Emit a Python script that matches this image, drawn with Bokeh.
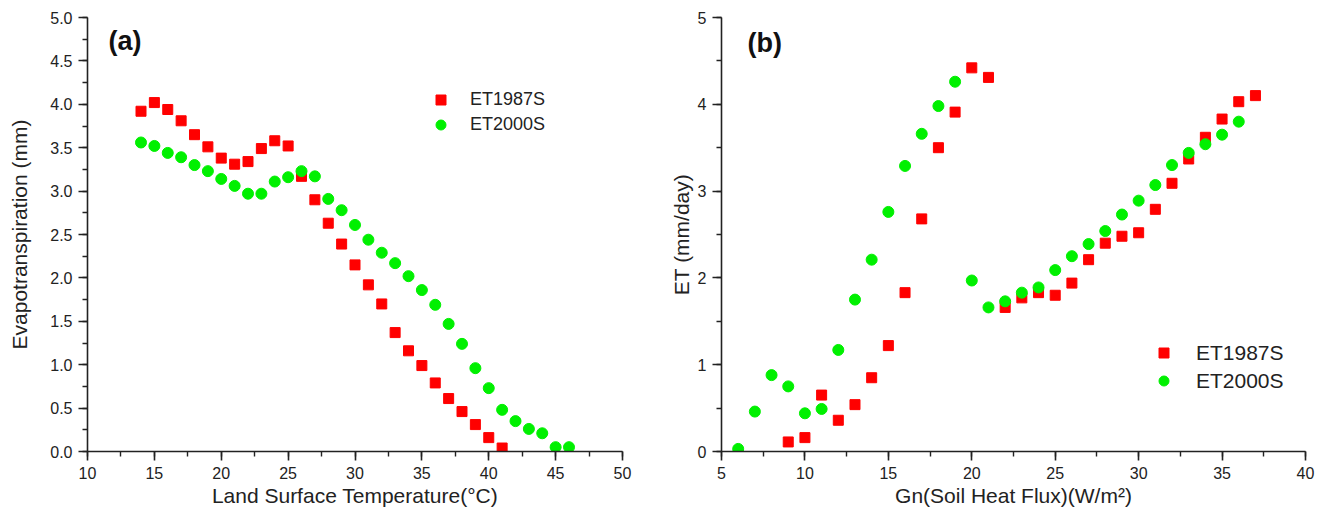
from bokeh.plotting import figure
from bokeh.layouts import row
from bokeh.models import Range1d, SingleIntervalTicker, PrintfTickFormatter, Legend, LegendItem, Label
from bokeh.embed import file_html
from bokeh.resources import INLINE

# ---------------- data ----------------
# Panel (a): ET vs Land Surface Temperature
lst_1987 = list(range(14, 42))
et1987_a = [3.92, 4.02, 3.94, 3.81, 3.65, 3.51, 3.38, 3.31, 3.34, 3.49, 3.58, 3.52, 3.17, 2.90,
            2.63, 2.39, 2.15, 1.92, 1.70, 1.37, 1.16, 0.99, 0.79, 0.61, 0.46, 0.31, 0.16, 0.04]
lst_2000 = list(range(14, 47))
et2000_a = [3.56, 3.52, 3.44, 3.39, 3.30, 3.23, 3.14, 3.06, 2.97, 2.97, 3.11, 3.16, 3.23, 3.17,
            2.91, 2.78, 2.61, 2.44, 2.29, 2.17, 2.02, 1.86, 1.69, 1.47, 1.24, 0.96, 0.73, 0.48,
            0.35, 0.26, 0.21, 0.05, 0.05]

# Panel (b): ET vs Soil heat flux
gn_1987 = list(range(9, 38))
et1987_b = [0.11, 0.16, 0.65, 0.36, 0.54, 0.85, 1.22, 1.83, 2.68, 3.50, 3.91, 4.42, 4.31,
            1.66, 1.77, 1.83, 1.80, 1.94, 2.21, 2.40, 2.48, 2.52, 2.79, 3.09, 3.37, 3.62,
            3.83, 4.03, 4.10]
gn_2000 = list(range(6, 37))
et2000_b = [0.03, 0.46, 0.88, 0.75, 0.44, 0.49, 1.17, 1.75, 2.21, 2.76, 3.29, 3.66, 3.98, 4.26,
            1.97, 1.66, 1.73, 1.83, 1.89, 2.09, 2.25, 2.39, 2.54, 2.73, 2.89, 3.07, 3.30,
            3.44, 3.54, 3.65, 3.80]

series_names = ["ET1987S", "ET2000S"]

FONT = "Liberation Sans"
RED = "#FF0000"
GREEN = "#00F000"
AXC = "#222222"


def make_fig(width, mbl, mbr, xr, yr, xint, yint, xlabel, ylabel, ylab_standoff):
    p = figure(width=width, height=511, x_range=Range1d(*xr), y_range=Range1d(*yr),
               output_backend="svg", toolbar_location=None,
               min_border_left=mbl, min_border_right=mbr, min_border_top=17, min_border_bottom=60)
    p.xgrid.visible = False
    p.ygrid.visible = False
    p.outline_line_color = None
    p.background_fill_color = "white"
    p.border_fill_color = "white"
    p.xaxis.ticker = SingleIntervalTicker(interval=xint, num_minor_ticks=2)
    p.yaxis.ticker = SingleIntervalTicker(interval=yint, num_minor_ticks=2)
    for ax in (p.xaxis[0], p.yaxis[0]):
        ax.axis_line_color = AXC
        ax.axis_line_width = 1.6
        ax.major_tick_line_color = AXC
        ax.minor_tick_line_color = AXC
        ax.major_tick_line_width = 1.6
        ax.minor_tick_line_width = 1.4
        ax.major_tick_out = 9
        ax.major_tick_in = 0
        ax.minor_tick_out = 5
        ax.minor_tick_in = 0
        ax.major_label_text_font = FONT
        ax.major_label_text_font_size = "16px"
        ax.major_label_text_color = AXC
        ax.major_label_standoff = 6
        ax.axis_label_text_font = FONT
        ax.axis_label_text_font_size = "21px"
        ax.axis_label_text_font_style = "normal"
        ax.axis_label_text_color = AXC
    p.xaxis.axis_label = xlabel
    p.yaxis.axis_label = ylabel
    p.xaxis.axis_label_standoff = 2
    p.yaxis.axis_label_standoff = ylab_standoff
    return p


# ---------------- panel (a) ----------------
pa = make_fig(663, 87, 41, (10, 50), (0, 5), 5, 0.5,
              "Land Surface Temperature(°C)", "Evapotranspiration (mm)", 16)
pa.yaxis.formatter = PrintfTickFormatter(format="%.1f")
ra = pa.scatter(lst_1987, et1987_a, marker="square", size=10, fill_color=RED, line_color=RED)
ga = pa.scatter(lst_2000, et2000_a, marker="circle", size=11, fill_color=GREEN, line_color=GREEN)
pa.add_layout(Label(x=11.57, y=4.73, text="(a)", text_font=FONT, text_font_size="27px",
                    text_font_style="bold", text_baseline="middle", text_color="#111111"))
leg_a = Legend(items=[LegendItem(label=series_names[0], renderers=[ra]),
                      LegendItem(label=series_names[1], renderers=[ga])],
               location=(341, 314), glyph_width=25, glyph_height=25, spacing=0,
               label_standoff=17, padding=0, margin=0, border_line_color=None,
               background_fill_alpha=0, label_text_font=FONT, label_text_font_size="18px",
               label_text_color=AXC)
pa.add_layout(leg_a)

# ---------------- panel (b) ----------------
pb = make_fig(660, 58, 18, (5, 40), (0, 5), 5, 1,
              "Gn(Soil Heat Flux)(W/m²)", "ET (mm/day)", 2)
rb = pb.scatter(gn_1987, et1987_b, marker="square", size=10, fill_color=RED, line_color=RED)
gb = pb.scatter(gn_2000, et2000_b, marker="circle", size=11, fill_color=GREEN, line_color=GREEN)
pb.add_layout(Label(x=6.56, y=4.71, text="(b)", text_font=FONT, text_font_size="27px",
                    text_font_style="bold", text_baseline="middle", text_color="#111111"))
leg_b = Legend(items=[LegendItem(label=series_names[0], renderers=[rb]),
                      LegendItem(label=series_names[1], renderers=[gb])],
               location=(430, 58), glyph_width=25, glyph_height=25, spacing=3,
               label_standoff=20, padding=0, margin=0, border_line_color=None,
               background_fill_alpha=0, label_text_font=FONT, label_text_font_size="21px",
               label_text_color=AXC)
pb.add_layout(leg_b)

layout = row(pa, pb)
open("out.html", "w").write(file_html(layout, INLINE))
